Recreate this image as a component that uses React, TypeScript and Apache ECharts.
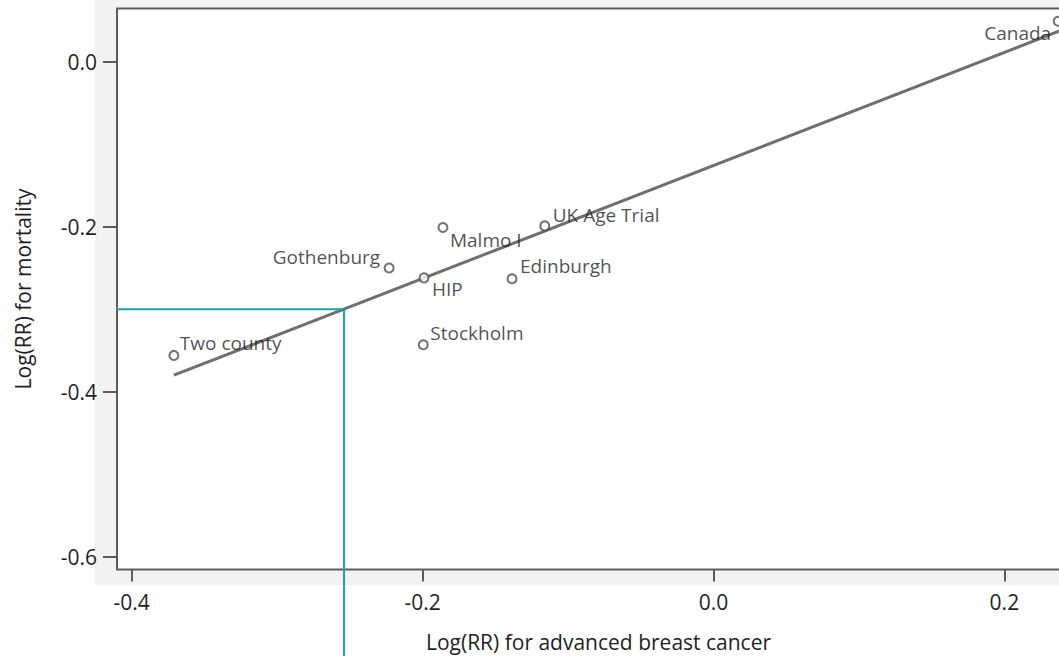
import React, { useEffect, useRef } from 'react';
import * as echarts from 'echarts';

// Trial points: Log(RR) for advanced breast cancer (x) vs Log(RR) for mortality (y)
const trialNames = ['Two county', 'Gothenburg', 'HIP', 'Malmo I', 'Stockholm', 'UK Age Trial', 'Edinburgh', 'Canada'];
const advancedLogRR = [-0.371, -0.223, -0.199, -0.186, -0.1995, -0.116, -0.1385, 0.237];
const mortalityLogRR = [-0.356, -0.250, -0.262, -0.201, -0.343, -0.199, -0.263, 0.049];

// Fitted regression line endpoints
const fitX = [-0.371, 0.252];
const fitY = [-0.380, 0.047];

// Teal guide lines (horizontal at mortality -0.30, vertical at advanced -0.254)
const guideX = [-0.426, -0.254, -0.254];
const guideY = [-0.30, -0.30, -0.73];

// Tick values
const xTicks = [-0.4, -0.2, 0.0, 0.2];
const yTicks = [-0.6, -0.4, -0.2, 0.0];

// Label placement per trial (style only)
const labelPlacement: Record<string, { align: string; dx: number; dy: number }> = {
  'Two county': { align: 'left', dx: 6, dy: -12 },
  Gothenburg: { align: 'right', dx: -9, dy: -11 },
  HIP: { align: 'left', dx: 8, dy: 11 },
  'Malmo I': { align: 'left', dx: 7, dy: 12 },
  Stockholm: { align: 'left', dx: 7, dy: -12 },
  'UK Age Trial': { align: 'left', dx: 8, dy: -11 },
  Edinburgh: { align: 'left', dx: 8, dy: -13 },
  Canada: { align: 'right', dx: -7, dy: 12 },
};

const FONT = "'Open Sans', 'Noto Sans', sans-serif";
const TEXT = '#1f1f1f';
const AXIS = '#5c5c5c';

export default function App() {
  const ref = useRef<HTMLDivElement>(null);

  useEffect(() => {
    if (!ref.current) return;
    const chart = echarts.init(ref.current, null, { renderer: 'svg' });

    const points = trialNames.map((name, i) => {
      const p = labelPlacement[name];
      return {
        name,
        value: [advancedLogRR[i], mortalityLogRR[i]],
        label: {
          show: true,
          position: 'inside',
          align: p.align,
          verticalAlign: 'middle',
          offset: [p.dx, p.dy],
          formatter: name,
          color: TEXT,
          fontFamily: FONT,
          fontSize: 19,
        },
      };
    });

    chart.setOption({
      animation: false,
      backgroundColor: '#ffffff',
      graphic: [
        {
          type: 'rect',
          z: -10,
          left: 95,
          top: 0,
          shape: { width: 1000, height: 585 },
          style: { fill: '#f2f2f2' },
          silent: true,
        },
      ],
      grid: {
        left: 117,
        top: 8.5,
        bottom: 86.5,
        right: 0,
        outerBoundsMode: 'none',
        containLabel: false,
        show: true,
        backgroundColor: '#ffffff',
        borderColor: AXIS,
        borderWidth: 2,
        z: 0,
      },
      xAxis: {
        type: 'value',
        min: -0.4101,
        max: 0.252,
        name: 'Log(RR) for advanced breast cancer',
        nameLocation: 'middle',
        nameGap: 61,
        nameTextStyle: { color: TEXT, fontFamily: FONT, fontSize: 21, lineHeight: 22 },
        axisLine: { show: false, onZero: false },
        splitLine: { show: false },
        axisTick: {
          show: true,
          length: 12,
          customValues: xTicks,
          lineStyle: { color: AXIS, width: 2 },
        },
        axisLabel: {
          customValues: xTicks,
          margin: 22,
          color: TEXT,
          fontFamily: FONT,
          fontSize: 21,
          formatter: (v: number) => v.toFixed(1),
        },
      },
      yAxis: {
        type: 'value',
        min: -0.6155,
        max: 0.0645,
        name: 'Log(RR) for mortality',
        nameLocation: 'middle',
        nameGap: 84,
        nameTextStyle: { color: TEXT, fontFamily: FONT, fontSize: 21 },
        axisLine: { show: false, onZero: false },
        splitLine: { show: false },
        axisTick: {
          show: true,
          length: 14,
          customValues: yTicks,
          lineStyle: { color: AXIS, width: 2 },
        },
        axisLabel: {
          customValues: yTicks,
          margin: 20,
          color: TEXT,
          fontFamily: FONT,
          fontSize: 21,
          formatter: (v: number) => v.toFixed(1),
        },
      },
      series: [
        {
          type: 'line',
          name: 'fit',
          data: fitX.map((x, i) => [x, fitY[i]]),
          showSymbol: false,
          symbol: 'none',
          lineStyle: { color: '#6f6f6f', width: 3 },
          z: 2,
          silent: true,
        },
        {
          type: 'line',
          name: 'guide',
          data: guideX.map((x, i) => [x, guideY[i]]),
          showSymbol: false,
          symbol: 'none',
          clip: false,
          lineStyle: { color: '#17a4ae', width: 2 },
          z: 3,
          silent: true,
        },
        {
          type: 'scatter',
          name: 'trials',
          data: points,
          symbol: 'circle',
          symbolSize: 9,
          itemStyle: { color: '#ffffff', borderColor: '#4d4d4d', borderWidth: 2 },
          z: 4,
        },
      ],
    });

    return () => chart.dispose();
  }, []);

  return (
    <div style={{ position: 'fixed', left: 0, top: 0, width: 1059, height: 656, overflow: 'hidden' }}>
      <div ref={ref} style={{ width: 1080, height: 656 }} />
    </div>
  );
}
